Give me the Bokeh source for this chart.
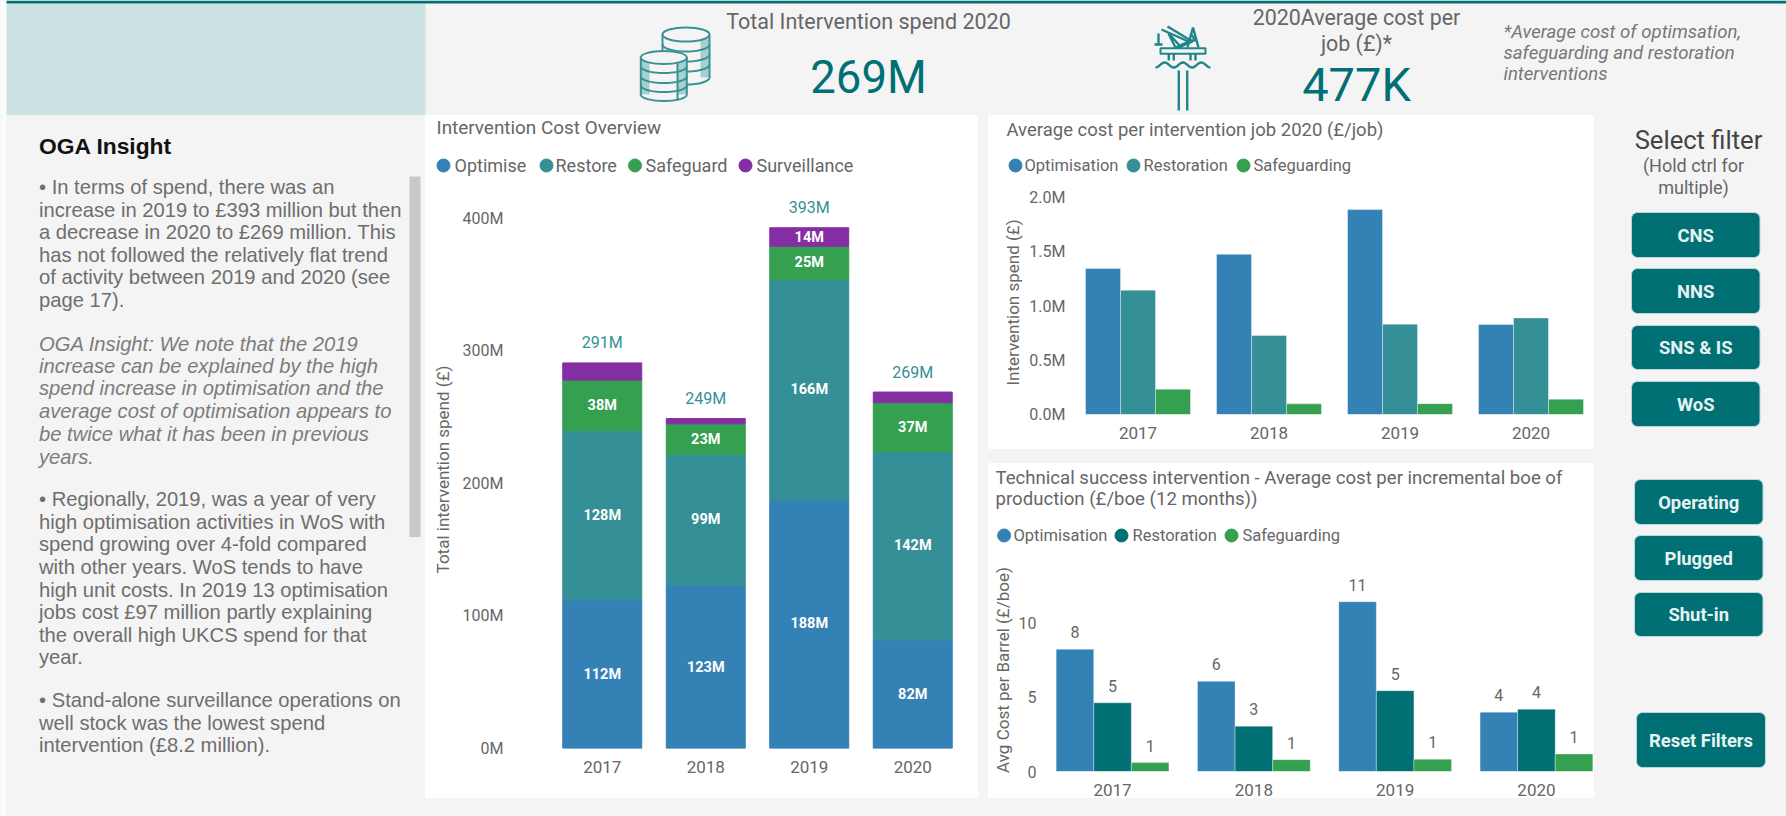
from bokeh.core.properties import value
from bokeh.embed import file_html
from bokeh.layouts import column, row
from bokeh.models import ColumnDataSource, FactorRange, FixedTicker, PrintfTickFormatter, Range1d
from bokeh.plotting import figure
from bokeh.resources import INLINE
from bokeh.transform import dodge
import numpy as np

years = ["2017", "2018", "2019", "2020"]

# Intervention Cost Overview (GBP million)
optimise = [112, 123, 188, 82]
restore = [128, 99, 166, 142]
safeguard = [38, 23, 25, 37]
surveillance = [13, 4, 14, 8]
totals = [291, 249, 393, 269]
optimise_lbl = ["112M", "123M", "188M", "82M"]
restore_lbl = ["128M", "99M", "166M", "142M"]
safeguard_lbl = ["38M", "23M", "25M", "37M"]
surveillance_lbl = ["", "", "14M", ""]
totals_lbl = ["291M", "249M", "393M", "269M"]

# Average cost per intervention job (GBP million / job)
job_opt = [1.346, 1.477, 1.889, 0.829]
job_rest = [1.146, 0.728, 0.832, 0.890]
job_safe = [0.233, 0.098, 0.100, 0.141]

# Average cost per incremental boe
boe_opt = [8.25, 6.08, 11.45, 4.0]
boe_rest = [4.63, 3.06, 5.45, 4.2]
boe_safe = [0.6, 0.8, 0.83, 1.18]

insight_lines = [
    ("• In terms of spend, there was an", 186.6, "normal"),
    ("increase in 2019 to £393 million but then", 209, "normal"),
    ("a decrease in 2020 to £269 million. This", 231.6, "normal"),
    ("has not followed the relatively flat trend", 254, "normal"),
    ("of activity between 2019 and 2020 (see", 276.7, "normal"),
    ("page 17).", 299, "normal"),
    ("OGA Insight: We note that the 2019", 343, "italic"),
    ("increase can be explained by the high", 365.4, "italic"),
    ("spend increase in optimisation and the", 387.5, "italic"),
    ("average cost of optimisation appears to", 410.5, "italic"),
    ("be twice what it has been in previous", 433, "italic"),
    ("years.", 456, "italic"),
    ("• Regionally, 2019, was a year of very", 498.7, "normal"),
    ("high optimisation activities in WoS with", 521, "normal"),
    ("spend growing over 4-fold compared", 543.8, "normal"),
    ("with other years. WoS tends to have", 566, "normal"),
    ("high unit costs. In 2019 13 optimisation", 589, "normal"),
    ("jobs cost £97 million partly explaining", 611, "normal"),
    ("the overall high UKCS spend for that", 634, "normal"),
    ("year.", 656, "normal"),
    ("• Stand-alone surveillance operations on", 699.6, "normal"),
    ("well stock was the lowest spend", 722, "normal"),
    ("intervention (£8.2 million).", 744.7, "normal"),
]
buttons = [("CNS", 1631, 1759.5, 212, 257), ("NNS", 1631, 1759.5, 268, 313),
           ("SNS & IS", 1631, 1759.5, 325, 369), ("WoS", 1631, 1759.5, 381, 426),
           ("Operating", 1634, 1762.5, 479, 524), ("Plugged", 1634, 1762.5, 535, 580),
           ("Shut-in", 1634, 1762.5, 592, 636), ("Reset Filters", 1636, 1765, 712, 767)]

BG = "#f4f4f4"
TEAL = "#007075"
BLUE = "#3481b6"
TEAL2 = "#349096"
GREEN = "#34a050"
PURPLE = "#852ea3"
GREY = "#666666"
F = "Roboto"
LINE = dict(line_color="white", line_alpha=0.35, line_width=1)


def panel(x0, y0, w, h, fill=BG):
    p = figure(width=w, height=h, x_range=Range1d(x0, x0 + w), y_range=Range1d(y0 + h, y0),
               min_border=0, toolbar_location=None, output_backend="svg",
               x_axis_location=None, y_axis_location=None, tools="")
    p.grid.visible = False
    p.outline_line_color = None
    p.background_fill_color = fill
    p.border_fill_color = fill
    return p


def ptext(p, x, y, text, size, color=GREY, font=F, style="normal", align="left"):
    p.text(x=[x], y=[y], text=[text], text_font=value(font), text_font_size=size,
           text_color=color, text_font_style=style, text_align=align, text_baseline="middle")


def chart(x0, y0, w, h, L, R, T, B, y_end, pad, ticks, fmt, ylabel, label_standoff, tick_standoff):
    p = figure(width=w, height=h, x_range=FactorRange(factors=years, range_padding=pad),
               y_range=Range1d(0, y_end), toolbar_location=None, output_backend="svg", tools="",
               min_border_left=L - x0, min_border_right=x0 + w - R,
               min_border_top=T - y0, min_border_bottom=y0 + h - B)
    p.grid.visible = False
    p.outline_line_color = None
    p.background_fill_color = "white"
    p.border_fill_color = "white"
    for ax in (p.xaxis[0], p.yaxis[0]):
        ax.major_tick_line_color = None
        ax.minor_tick_line_color = None
        ax.axis_line_color = None
        ax.major_label_text_color = GREY
        ax.major_label_text_font = F
    p.xaxis.major_label_text_font_size = "17px"
    p.yaxis.major_label_text_font_size = "16px"
    p.xaxis.major_label_standoff = 6
    p.yaxis.major_label_standoff = tick_standoff
    p.yaxis.ticker = FixedTicker(ticks=ticks)
    p.yaxis.formatter = PrintfTickFormatter(format=fmt)
    p.yaxis.axis_label = ylabel
    p.yaxis.axis_label_text_font = F
    p.yaxis.axis_label_text_font_size = "17px"
    p.yaxis.axis_label_text_font_style = "normal"
    p.yaxis.axis_label_text_color = GREY
    p.yaxis.axis_label_standoff = label_standoff
    return p


def legend(p, y, names, colors, dot_x, text_x, size):
    p.scatter(x=dot_x, y=[y] * len(names), size=13, marker="circle", fill_color=colors, line_color=colors)
    p.text(x=text_x, y=[y] * len(names), text=names, text_font=value(F), text_font_size=size,
           text_color=GREY, text_baseline="middle")


def stack(*figs):
    # each figure sits in its own row so that frames are not aligned across the column
    return column(*[row(f, spacing=0, margin=0) for f in figs], spacing=0, margin=0,
                  styles={"background-color": "white"})


# ---------- header ----------
head = panel(0, 0, 1786, 115)
head.quad(left=[0], right=[6], top=[0], bottom=[115], fill_color="#fbfbfb", line_color=None)
head.quad(left=[6], right=[425], top=[3], bottom=[115], fill_color="#cbe3e3", line_color=None)
head.quad(left=[6], right=[1786], top=[0], bottom=[3], fill_color=TEAL, line_color=None)
ICON = "#3a9295"
SHADE = "#a9d0d1"


def cylinder(p, cx, top, bottom, rx, ry, bands, shades):
    p.ellipse(x=[cx], y=[bottom], width=[2 * rx], height=[2 * ry], fill_color=BG, line_color=ICON, line_width=2)
    p.quad(left=[cx - rx], right=[cx + rx], top=[top], bottom=[bottom], fill_color=BG, line_color=None)
    for a_, b_ in shades:
        p.quad(left=[a_], right=[b_], top=[top], bottom=[bottom], fill_color=SHADE, line_color=None)
    p.multi_line(xs=[[cx - rx, cx - rx], [cx + rx, cx + rx]], ys=[[top, bottom], [top, bottom]],
                 line_color=ICON, line_width=2)
    t = np.linspace(0, np.pi, 30)
    for by in bands:
        p.line(x=cx + rx * np.cos(t), y=by + ry * np.sin(t), line_color=ICON, line_width=2)
    p.ellipse(x=[cx], y=[top], width=[2 * rx], height=[2 * ry], fill_color=BG, line_color=ICON, line_width=2)


cylinder(head, 685.5, 34, 77, 23.5, 7, [44, 54, 64], [(700, 709)])
cylinder(head, 663.3, 57, 94, 23, 6.5, [66, 76, 85], [(640.3, 649), (677, 686.3)])
head.line(x=[677, 677], y=[62, 100], line_color=ICON, line_width=2)

RIG = "#1f8589"
rig_x = [[1168.3, 1168.3], [1173.3, 1173.3], [1190, 1190], [1195, 1195], [1178.3, 1178.3],
         [1186.7, 1186.7], [1187, 1192.5, 1198], [1190, 1195], [1195, 1190], [1161, 1188, 1175], [1167, 1192, 1178],
         [1175, 1168, 1181, 1175], [1158, 1158], [1154, 1162]]
rig_y = [[53, 60], [53, 60], [53, 60], [53, 60], [70, 110], [70, 110], [47, 27, 47], [40, 40],
         [40, 33], [29, 41, 47], [26, 41, 47], [47, 33, 47, 47], [33, 44], [44, 44]]
head.multi_line(xs=rig_x, ys=rig_y, line_color=RIG, line_width=2.4)
head.quad(left=[1160], right=[1205], top=[47.7], bottom=[53.3], fill_color=BG, line_color=RIG, line_width=2)
wave_t = np.linspace(0, 3, 60)
head.line(x=1155 + wave_t * 18.3, y=65 - 2.5 * np.sin(2 * np.pi * wave_t - np.pi / 2) - 0.5, line_color=RIG, line_width=2.4)

ptext(head, 868, 21, "Total Intervention spend 2020", "21.5px", align="center")
ptext(head, 868, 77, "269M", "45.5px", TEAL, align="center")
ptext(head, 1356, 17, "2020Average cost per", "21.4px", align="center")
ptext(head, 1356, 43, "job (£)*", "21.4px", align="center")
ptext(head, 1356, 84, "477K", "47px", TEAL, align="center")
for yy, tt in zip([31, 52, 73], ["*Average cost of optimsation,", "safeguarding and restoration", "interventions"]):
    ptext(head, 1503, yy, tt, "18.6px", "#777777", style="italic")

# ---------- left panel ----------
left = panel(0, 115, 425, 701)
left.quad(left=[0], right=[6], top=[115], bottom=[816], fill_color="#fbfbfb", line_color=None)
ptext(left, 38.5, 145, "OGA Insight", "22.8px", "#111111", "Liberation Sans", "bold")
for tt, yy, st in insight_lines:
    ptext(left, 38.5, yy, tt, "20.2px", "#6e6e6e" if st == "normal" else "#7c7c7c", "Liberation Sans", st)
left.quad(left=[409], right=[420], top=[176], bottom=[536.6], fill_color="#c8c8c8", line_color=None)

# ---------- main stacked chart ----------
m_head = panel(425, 115, 553, 70, "white")
ptext(m_head, 436, 127, "Intervention Cost Overview", "18.9px")
legend(m_head, 165, ["Optimise", "Restore", "Safeguard", "Surveillance"], [BLUE, TEAL2, GREEN, PURPLE],
       [443, 546, 634.5, 745], [454, 555, 645, 756], "18px")
m = chart(425, 185, 553, 613, 550, 964, 190, 748, 421.1, 0, [0, 100, 200, 300, 400], "%dM",
          "Total intervention spend (£)", 7, 41)
stack_src = ColumnDataSource(dict(year=years, Optimise=optimise, Restore=restore, Safeguard=safeguard,
                                  Surveillance=surveillance))
m.vbar_stack(["Optimise", "Restore", "Safeguard", "Surveillance"], x="year", width=0.763, source=stack_src,
             color=[BLUE, TEAL2, GREEN, PURPLE])
base = [0, 0, 0, 0]
for vals, lbls in zip([optimise, restore, safeguard, surveillance],
                      [optimise_lbl, restore_lbl, safeguard_lbl, surveillance_lbl]):
    mid = [b_ + v / 2 for b_, v in zip(base, vals)]
    m.text(x=years, y=mid, text=lbls, text_color="white", text_font=value(F), text_font_size="14.5px",
           text_font_style="bold", text_align="center", text_baseline="middle")
    base = [b_ + v for b_, v in zip(base, vals)]
m.text(x=years, y=base, text=totals_lbl, y_offset=-20, text_color=TEAL2, text_font=value(F), text_font_size="16px",
       text_align="center", text_baseline="middle")

# ---------- average cost per job ----------
a_head = panel(988, 115, 606, 70, "white")
ptext(a_head, 1006, 129, "Average cost per intervention job 2020 (£/job)", "18.5px")
legend(a_head, 165, ["Optimisation", "Restoration", "Safeguarding"], [BLUE, TEAL2, GREEN],
       [1015, 1133, 1243], [1024, 1143, 1253], "16.5px")
a = chart(988, 185, 606, 264, 1074, 1594, 190, 414, 2.065, -0.0076, [0, 0.5, 1.0, 1.5, 2.0], "%.1fM",
          "Intervention spend (£)", 3, 3)
a_src = ColumnDataSource(dict(year=years, o=job_opt, r=job_rest, s=job_safe))
for col, off, c in zip("ors", [-0.267, 0, 0.267], [BLUE, TEAL2, GREEN]):
    a.vbar(x=dodge("year", off, range=a.x_range), top=col, width=0.267, source=a_src, fill_color=c, **LINE)

# ---------- average cost per boe ----------
b_head = panel(988, 463, 606, 97, "white")
ptext(b_head, 995, 477, "Technical success intervention - Average cost per incremental boe of", "18.6px")
ptext(b_head, 995, 498, "production (£/boe (12 months))", "18.6px")
legend(b_head, 535, ["Optimisation", "Restoration", "Safeguarding"], [BLUE, TEAL, GREEN],
       [1003.6, 1121, 1231], [1013, 1132, 1242], "16.5px")
b = chart(988, 560, 606, 238, 1054, 1594, 568, 772, 13.69, -0.0446, [0, 5, 10], "%d",
          "Avg Cost per Barrel (£/boe)", 3, 12)
b_src = ColumnDataSource(dict(year=years, o=boe_opt, r=boe_rest, s=boe_safe,
                              ol=[f"{v:.0f}" for v in boe_opt], rl=[f"{v:.0f}" for v in boe_rest],
                              sl=[f"{max(v, 1):.0f}" for v in boe_safe]))
for col, off, c in zip("ors", [-0.266, 0, 0.266], [BLUE, TEAL, GREEN]):
    xx = dodge("year", off, range=b.x_range)
    b.vbar(x=xx, top=col, width=0.266, source=b_src, fill_color=c, **LINE)
    b.text(x=xx, y=col, text=col + "l", source=b_src, y_offset=-17, text_color=GREY, text_font=value(F),
           text_font_size="16px", text_align="center", text_baseline="middle")

mid_col = stack(m_head, m)
mid_col.margin = (0, 0, 18, 0)
right = column(stack(a_head, a), stack(b_head, b), spacing=14, margin=(0, 0, 18, 10))

# ---------- filter panel ----------
filt = panel(1594, 115, 192, 701)
ptext(filt, 1698, 139, "Select filter", "25.6px", "#444444", align="center")
ptext(filt, 1693, 165, "(Hold ctrl for", "18px", align="center")
ptext(filt, 1693, 187, "multiple)", "18px", align="center")
for name, x0, x1, y0, y1 in buttons:
    filt.quad(left=[x0], right=[x1], top=[y0], bottom=[y1], fill_color=TEAL, line_color="#bcd6d6",
              line_width=1, border_radius=6)
    ptext(filt, (x0 + x1) / 2, (y0 + y1) / 2, name, "18.4px", "#e6f3f3", style="bold", align="center")

lower = row(left, mid_col, right, filt, spacing=0, margin=0)
root = column(head, lower, spacing=0, margin=0, width=1786, height=816, styles={"background-color": BG})

open("out.html", "w").write(file_html(root, INLINE))
